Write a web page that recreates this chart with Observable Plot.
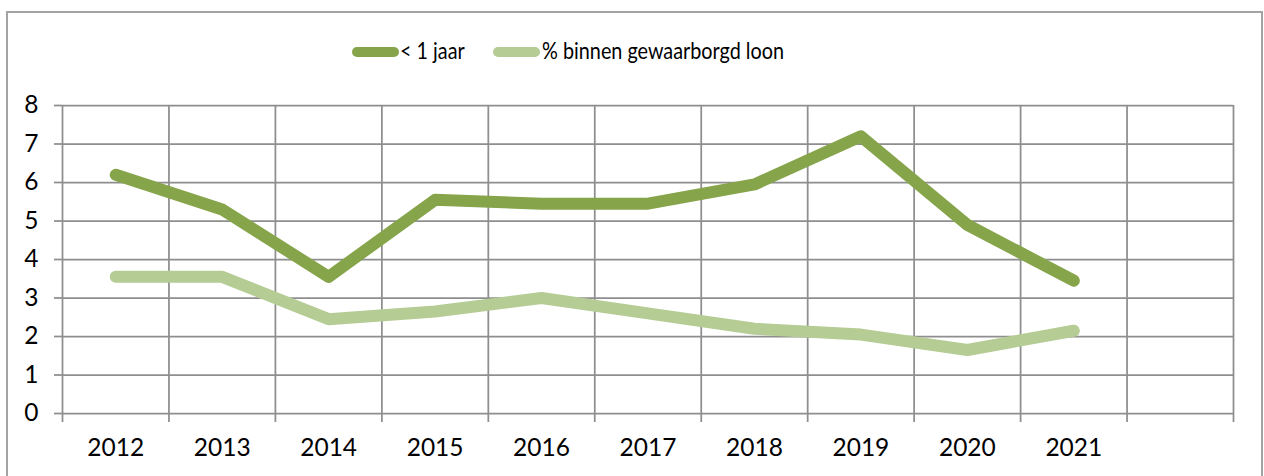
<!DOCTYPE html>
<html><head><meta charset="utf-8">
<script src="https://cdn.jsdelivr.net/npm/d3@7"></script>
<script src="https://cdn.jsdelivr.net/npm/@observablehq/plot@0.6"></script>
<style>
body{margin:0;background:#fff;}
#wrap{position:relative;width:1264px;height:476px;overflow:hidden;font-family:Lato, "Open Sans", sans-serif;color:#000;}
#border{position:absolute;left:6px;top:11px;width:1257px;height:520px;border:2px solid #a3a3a3;box-sizing:border-box;}
#chart{position:absolute;left:0;top:0;}
.sw{position:absolute;height:10px;border-radius:5px;top:47px;}
.lt{position:absolute;font-size:22.5px;line-height:22px;top:40px;white-space:nowrap;transform:scaleX(0.88);transform-origin:0 50%;}
</style></head>
<body>
<div id="wrap">
  <div id="border"></div>
  <div id="chart"></div>
  <div id="legend"></div>
</div>
<script>
const years = [2012, 2013, 2014, 2015, 2016, 2017, 2018, 2019, 2020, 2021];
const underOneYear = [6.2, 5.3, 3.55, 5.55, 5.45, 5.45, 5.95, 7.2, 4.9, 3.45];
const withinGuaranteed = [3.55, 3.55, 2.45, 2.65, 3.0, 2.6, 2.2, 2.05, 1.65, 2.15];
const seriesNames = ["< 1 jaar", "% binnen gewaarborgd loon"];
const seriesColors = ["#86a44a", "#b5cc94"];
const yTicks = [0, 1, 2, 3, 4, 5, 6, 7, 8];
const boundaries = [2011.5, 2012.5, 2013.5, 2014.5, 2015.5, 2016.5, 2017.5, 2018.5, 2019.5, 2020.5, 2021.5, 2022.5];

const rows = [];
years.forEach((y, i) => {
  rows.push({year: y, value: underOneYear[i], series: seriesNames[0]});
  rows.push({year: y, value: withinGuaranteed[i], series: seriesNames[1]});
});

const gridColor = "#8e8e8e";
const plot = Plot.plot({
  width: 1264,
  height: 476,
  marginLeft: 62,
  marginRight: 31,
  marginTop: 105,
  marginBottom: 63,
  style: {fontFamily: "Lato, 'Open Sans', sans-serif", fontSize: "24px", color: "#000", background: "transparent"},
  x: {domain: [2011.5, 2022.5], axis: null},
  y: {domain: [0, 8], axis: null},
  color: {domain: seriesNames, range: seriesColors},
  marks: [
    Plot.gridY(yTicks, {stroke: gridColor, strokeOpacity: 1, strokeWidth: 1.75}),
    Plot.gridX(boundaries, {stroke: gridColor, strokeOpacity: 1, strokeWidth: 1.75}),
    Plot.axisY(yTicks, {anchor: "left", tickSize: 8, tickPadding: 16, stroke: gridColor, strokeWidth: 1.75, tickFormat: d => String(d), fill: "#000", fontSize: 24.5, label: null}),
    Plot.axisX(boundaries, {anchor: "bottom", tickSize: 9, stroke: gridColor, strokeWidth: 1.75, tickFormat: () => "", label: null}),
    Plot.axisX(years, {anchor: "bottom", tickSize: 0, tickPadding: 25, tickFormat: d => String(d), fill: "#000", fontSize: 24.5, label: null}),
    Plot.line(rows, {x: "year", y: "value", z: "series", stroke: "series", strokeWidth: 12, strokeLinecap: "round", strokeLinejoin: "round"})
  ]
});
document.getElementById("chart").appendChild(plot);

const legend = document.getElementById("legend");
const legendPos = [{sw: 352, tx: 400}, {sw: 493, tx: 542}];
seriesNames.forEach((name, i) => {
  const s = document.createElement("div");
  s.className = "sw";
  s.style.left = legendPos[i].sw + "px";
  s.style.width = "47px";
  s.style.background = seriesColors[i];
  legend.appendChild(s);
  const t = document.createElement("div");
  t.className = "lt";
  t.style.left = legendPos[i].tx + "px";
  t.textContent = name;
  legend.appendChild(t);
});
</script>
</body></html>
